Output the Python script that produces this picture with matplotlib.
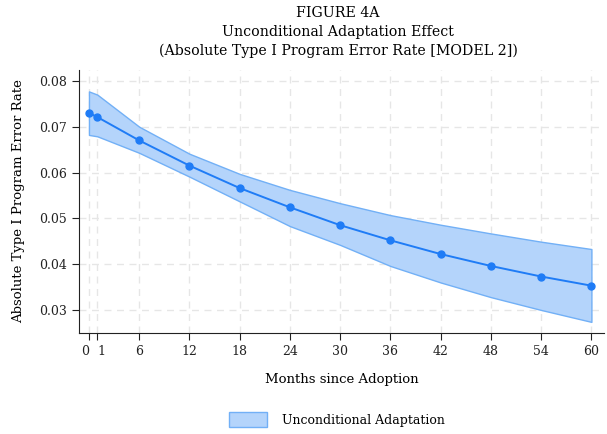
import numpy as np
import matplotlib
matplotlib.use("Agg")
import matplotlib.pyplot as plt

plt.rcParams['font.family'] = ['DejaVu Serif']

# Meses desde la adopción y efecto estimado con intervalo de confianza
meses = [0, 1, 6, 12, 18, 24, 30, 36, 42, 48, 54, 60]
efecto = [0.0730, 0.0721, 0.0670, 0.0615, 0.0566, 0.0524, 0.0485, 0.0452, 0.0422, 0.0396, 0.0373, 0.0353]
ic_sup = [0.0777, 0.0770, 0.0700, 0.0641, 0.0597, 0.0562, 0.0533, 0.0507, 0.0486, 0.0467, 0.0449, 0.0433]
ic_inf = [0.0682, 0.0679, 0.0643, 0.0591, 0.0537, 0.0483, 0.0442, 0.0396, 0.0360, 0.0328, 0.0300, 0.0274]
yticks = [0.03, 0.04, 0.05, 0.06, 0.07, 0.08]
titulo = ['FIGURE 4A', 'Unconditional Adaptation Effect',
          '(Absolute Type I Program Error Rate [MODEL 2])']

linea = '#1f7cf6'
relleno = '#b4d4fb'
borde = '#72b0f6'

fig = plt.figure(figsize=(6.07, 4.34), dpi=100)
ax = fig.add_axes([0.130, 0.233, 0.865, 0.606])

ax.fill_between(meses, ic_inf, ic_sup, facecolor=relleno, edgecolor=borde,
                linewidth=1, label='Unconditional Adaptation', zorder=2)
ax.plot(meses, efecto, color=linea, lw=1.4, marker='o', ms=5, zorder=3)

ax.set_xlim(-1.2, 61.5)
ax.set_ylim(0.0250, 0.0824)
ax.set_xticks(meses)
ax.set_yticks(yticks)
ax.set_yticklabels(['%.2f' % t for t in yticks])
ax.grid(True, color='#e6e6e6', ls=(0, (5, 4)), lw=1, zorder=0)
ax.set_axisbelow(True)
for s in ['top', 'right']:
    ax.spines[s].set_visible(False)
for s in ['left', 'bottom']:
    ax.spines[s].set_color('#222222')
ax.tick_params(labelsize=9, colors='#222222', length=5)
# separar un poco las etiquetas 0 y 1
xt = ax.get_xticklabels()
xt[0].set_ha('right')
xt[1].set_ha('left')

ax.set_xlabel('Months since Adoption', fontsize=9.5, labelpad=11)
ax.set_ylabel('Absolute Type I Program Error Rate', fontsize=9.5, labelpad=10)

# titulo en tres lineas centrado sobre el panel
for i, t in enumerate(titulo):
    fig.text(0.557, 1 - (13 + 19 * i) / 434, t, fontsize=10.2, ha='center', va='center')

fig.legend(loc='lower center', bbox_to_anchor=(0.555, -0.01), frameon=False,
           fontsize=9, handlelength=3.0, handleheight=1.5, handletextpad=1.2)

fig.savefig('out.png', dpi=100)
